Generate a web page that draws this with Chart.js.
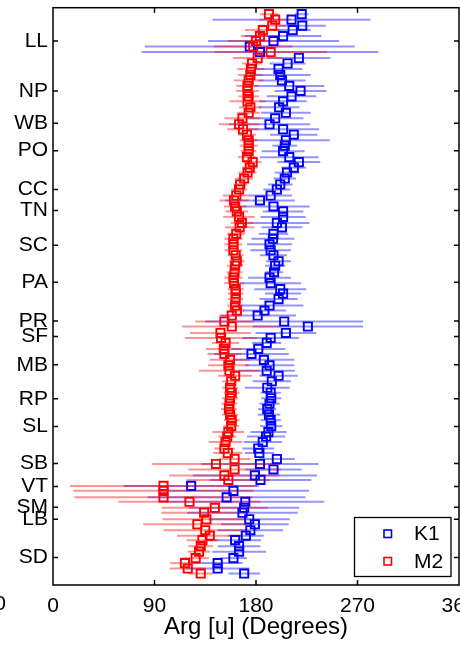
<!DOCTYPE html>
<html>
<head>
<meta charset="utf-8">
<style>
  html, body { margin: 0; padding: 0; background: #fff; overflow: hidden; width: 460px; height: 645px; }
  #wrap { position: absolute; left: -40px; top: 0; width: 540px; height: 645px; }
</style>
<script src="https://cdn.jsdelivr.net/npm/chart.js@4.4.0/dist/chart.umd.min.js"></script>
</head>
<body>
<div id="wrap"><canvas id="c" width="540" height="645"></canvas></div>
<script>
// Tide-gauge / mooring stations along the coast (alongshore km, north to south)
const stationNames = ['LL','NP','WB','PO','CC','TN','SC','PA','PR','SF','MB','RP','SL','SB','VT','SM','LB','SD'];
const stationPos   = [67, 167, 232, 287, 365, 407, 477, 551, 629, 660, 717, 785, 841, 915, 961, 1003, 1027, 1104];

// Along-shore position of every velocity record (km)
const alongshore = [13,24,36,45,57,67,78,89,101,112,
  123,135,146,157,167,178,188,200,211,222,
  234,244,255,266,277,288,300,310,321,331,
  343,355,365,377,387,399,409,420,432,441,
  454,464,475,487,497,509,518,531,542,553,
  565,574,585,598,608,618,630,640,653,663,
  673,685,695,707,718,729,739,750,763,773,
  784,795,806,817,828,840,852,861,872,885,
  894,906,916,927,939,948,960,970,983,992,
  1004,1014,1027,1037,1049,1060,1069,1081,1092,1105,
  1115,1126,1136];

// K1 phase of u (degrees) and its uncertainty
const k1Phase = [220.5,211.5,221,212.5,204,195.5,174.5,183.5,218,208,
  200,201.5,203,209.5,219.5,211.5,204,200.5,206.5,197,
  192,204,213.5,206.5,205.5,204,209.5,218,213.5,207.5,
  205.5,201.5,198.5,193,183.5,195.5,204,204,198.5,203,
  195.5,195,192,193,195.5,200,197,196,192,193,
  201.5,204,200,192,187.5,181.5,205,226,206.5,193,
  189.5,182,176,187,192,189.5,200,194,190,193,
  193.5,192,190,191.5,193,193.5,191,189,186,182,
  183,198.5,183.5,195.5,179,184,122.5,160,154,170.5,
  169.5,168,174,179,175,171,161.5,165,165,160,
  146,146,169.5];
const k1Err = [6,70,21,16,34,58,93,105,28,16,
  21,27,21,31,23,22,21,18,22,25,
  36,32,21,39,11,19,26,19,11,11,
  10,11,12,19,31,32,18,20,29,18,
  13,19,20,18,12,11,9,8,19,27,
  23,16,17,30,19,34,70,49,27,25,
  13,24,33,27,22,25,17,17,20,9,
  9,9,8,10,9,10,16,17,17,14,
  13,16,52,25,55,45,60,67,70,70,
  49,49,36,30,29,16,23,19,24,12,
  22,28,14];

// M2 phase of u (degrees) and its uncertainty
const m2Phase = [191.5,197,194.5,186,183.5,180,177.5,193,181.5,176.5,
  175.5,175,173.5,172.5,172.5,173.5,172.5,175,173.5,168,
  165,168.5,172,173.5,173.5,173.5,172,177,174.5,172.5,
  169.5,166,165,162.5,160.5,161.5,163,165,167.5,165.5,
  162.5,160,160,160,162,163,161.5,161,160,160.5,
  162,162,162,161.5,163,158.5,152,158.5,148.5,149,
  153,151.5,152,157,155.5,156.5,161.5,158,157,158.5,
  157,156.5,156,157,158.5,158,155.5,154.5,153,152,
  155,161,144.5,161,152,155.5,98,98,98,121,
  143.5,134,136,128,135,139,132.5,131,129.5,126.5,
  117,119.5,131];
const m2Err = [8,14,12,16,17,25,35,50,22,9,
  12,11,13,10,10,9,16,10,10,16,
  18,14,8,8,8,7,8,8,7,8,
  8,6,7,12,13,10,10,14,10,13,
  8,8,8,8,7,7,7,7,8,9,
  7,7,7,7,7,9,26,44,27,32,
  12,16,15,18,18,27,15,8,7,7,
  7,7,7,7,7,7,14,8,15,9,
  13,14,57,41,49,37,83,80,79,63,
  47,38,39,48,37,29,14,11,10,12,
  13,16,11];

const phaseTicks = [0, 90, 180, 270, 360];
const seriesNames = ['K1', 'M2'];

const FONT = "'Liberation Sans', Arial, sans-serif";
const BLUE = '#0000ff', RED = '#ff0000';
const errSets = [
  { phase: k1Phase, err: k1Err, color: 'rgba(0,0,255,0.42)' },
  { phase: m2Phase, err: m2Err, color: 'rgba(255,0,0,0.42)' }
];

// horizontal uncertainty bars, drawn under the markers
const errorBars = {
  id: 'errorBars',
  beforeDatasetsDraw(chart) {
    const { ctx, scales: { x, y } } = chart;
    ctx.save();
    ctx.lineWidth = 2;
    errSets.forEach(s => {
      ctx.strokeStyle = s.color;
      alongshore.forEach((pos, i) => {
        const py = y.getPixelForValue(pos);
        ctx.beginPath();
        ctx.moveTo(x.getPixelForValue(Math.max(0, s.phase[i] - s.err[i])), py);
        ctx.lineTo(x.getPixelForValue(Math.min(360, s.phase[i] + s.err[i])), py);
        ctx.stroke();
      });
    });
    ctx.restore();
  }
};

// boxed axes with inward ticks, legend box
const frame = {
  id: 'frame',
  afterDraw(chart) {
    const { ctx, chartArea: a, scales: { x, y } } = chart;
    ctx.save();
    ctx.strokeStyle = '#000';
    ctx.lineWidth = 1.5;
    ctx.strokeRect(a.left, a.top, a.right - a.left, a.bottom - a.top);
    ctx.beginPath();
    phaseTicks.slice(1, -1).forEach(v => {
      const px = x.getPixelForValue(v);
      ctx.moveTo(px, a.bottom); ctx.lineTo(px, a.bottom - 5);
      ctx.moveTo(px, a.top); ctx.lineTo(px, a.top + 5);
    });
    stationPos.forEach(v => {
      const py = y.getPixelForValue(v);
      ctx.moveTo(a.left, py); ctx.lineTo(a.left + 5, py);
      ctx.moveTo(a.right, py); ctx.lineTo(a.right - 5, py);
    });
    ctx.stroke();

    // neighbouring panel's last tick label, cut at the left edge
    ctx.fillStyle = '#000';
    ctx.font = '21px ' + FONT;
    ctx.textAlign = 'right';
    ctx.textBaseline = 'middle';
    ctx.fillText('360', 46, 604);

    // legend
    const lx = 394.5, ly = 517.5, lw = 96.5, lh = 59;
    ctx.fillStyle = '#fff';
    ctx.fillRect(lx, ly, lw, lh);
    ctx.lineWidth = 1.3;
    ctx.strokeRect(lx, ly, lw, lh);
    const colors = [BLUE, RED];
    seriesNames.forEach((name, i) => {
      const cy = 533.5 + i * 27.5;
      ctx.strokeStyle = colors[i];
      ctx.lineWidth = 1.6;
      ctx.strokeRect(424, cy - 3.5, 7.5, 7.5);
      ctx.fillStyle = '#000';
      ctx.textAlign = 'left';
      ctx.textBaseline = 'middle';
      ctx.fillText(name, 454, cy + 1);
    });
    ctx.restore();
  }
};

const makePoints = ph => alongshore.map((pos, i) => ({ x: ph[i], y: pos }));

new Chart(document.getElementById('c'), {
  type: 'scatter',
  data: {
    datasets: [
      { label: seriesNames[0], data: makePoints(k1Phase), order: 1,
        pointStyle: 'rect', pointRadius: 5.8, pointBorderWidth: 1.9,
        borderColor: BLUE, backgroundColor: 'rgba(0,0,0,0)' },
      { label: seriesNames[1], data: makePoints(m2Phase), order: 0,
        pointStyle: 'rect', pointRadius: 5.8, pointBorderWidth: 1.9,
        borderColor: RED, backgroundColor: 'rgba(0,0,0,0)' }
    ]
  },
  options: {
    responsive: false,
    animation: false,
    devicePixelRatio: 1,
    events: [],
    layout: { padding: { left: 0, right: 41, top: 6, bottom: 0 } },
    plugins: { legend: { display: false }, tooltip: { enabled: false } },
    scales: {
      x: {
        type: 'linear', min: 0, max: 360,
        grid: { display: false, drawTicks: false }, border: { display: false },
        afterBuildTicks: s => { s.ticks = phaseTicks.map(v => ({ value: v })); },
        afterFit: s => { s.height = 60; s.paddingLeft = 0; s.paddingRight = 0; },
        ticks: { color: '#000', padding: 9, maxRotation: 0, autoSkip: false, font: { family: FONT, size: 21 } },
        title: { display: true, text: 'Arg [u] (Degrees)', color: '#000', padding: { top: 0, bottom: 3 }, font: { family: FONT, size: 24 } }
      },
      y: {
        type: 'linear', reverse: true, min: 0, max: 1159,
        grid: { display: false, drawTicks: false }, border: { display: false },
        afterBuildTicks: s => { s.ticks = stationPos.map(v => ({ value: v })); },
        afterFit: s => { s.width = 93; s.paddingTop = 0; s.paddingBottom = 0; },
        ticks: { color: '#000', padding: 5, autoSkip: false,
          font: { family: FONT, size: 21 },
          callback: v => stationNames[stationPos.indexOf(v)] }
      }
    }
  },
  plugins: [errorBars, frame]
});
</script>
</body>
</html>
